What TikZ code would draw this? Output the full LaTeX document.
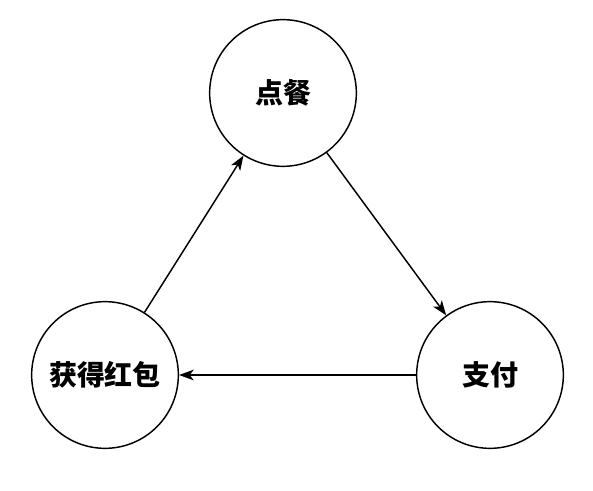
\documentclass[tikz,border=0pt]{standalone}
\usepackage{fontspec}
\newfontfamily\cjk{Noto Sans CJK SC}
\usetikzlibrary{arrows.meta}

\begin{document}
\begin{tikzpicture}[x=.75pt,y=-.75pt]
	\tikzstyle{every node}=[circle, draw, line width=1.1pt, minimum size=110pt, inner sep=0pt, font=\cjk\bfseries\fontsize{21}{25}\selectfont]
	\tikzstyle{link}=[line width=1.1pt, -{Stealth[length=11pt,width=8pt,inset=3pt]}]
	\useasboundingbox (0,0) rectangle (593,491);
	\draw (283,93) node (order) {点餐};
	\draw (490,375) node (pay) {支付};
	\draw (105,375) node (bonus) {获得红包};
	\draw[link] (order) -- (pay);
	\draw[link] (pay) -- (bonus);
	\draw[link] (bonus) -- (order);
\end{tikzpicture}
\end{document}
